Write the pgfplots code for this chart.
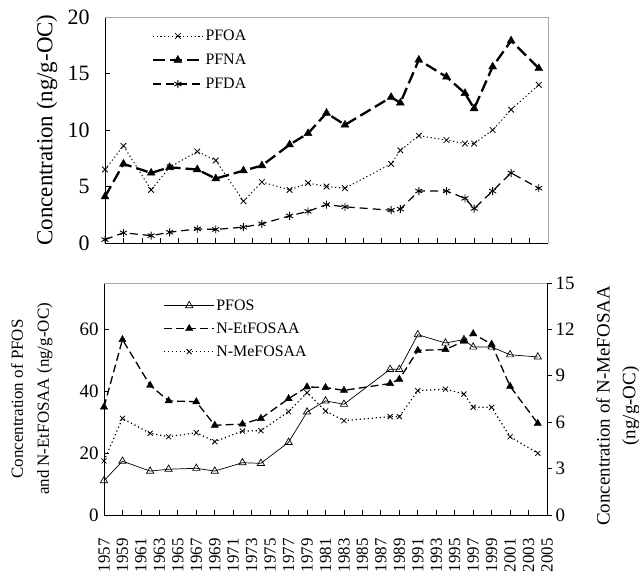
\documentclass[border=0pt]{standalone}
\usepackage{pgfplots}
\pgfplotsset{compat=1.18}
\usepackage{fontspec}
\setmainfont{Liberation Serif}
\pgfplotstableread{
year PFOA PFNA PFDA
1957 6.5 4.1 0.3
1959 8.6 7.0 0.9
1962 4.7 6.2 0.65
1964 6.7 6.7 0.95
1967 8.1 6.5 1.25
1969 7.3 5.7 1.2
1972 3.7 6.4 1.4
1974 5.4 6.85 1.7
1977 4.7 8.7 2.4
1979 5.3 9.7 2.8
1981 5.0 11.5 3.4
1983 4.85 10.45 3.2
1988 7.0 12.9 2.9
1989 8.2 12.4 3.0
1991 9.5 16.2 4.6
1994 9.1 14.7 4.6
1996 8.8 13.25 3.95
1997 8.8 11.9 3.05
1999 10.0 15.6 4.6
2001 11.8 17.9 6.2
2004 14.0 15.45 4.85
}\toptable
\pgfplotstableread{
year PFOS NEt NMe
1957 11.1 34.9 3.5
1959 17.4 56.7 6.25
1962 14.2 41.9 5.28
1964 14.8 36.9 5.06
1967 15.1 36.6 5.32
1969 14.2 29.0 4.74
1972 16.9 29.4 5.43
1974 16.7 31.2 5.45
1977 23.5 37.6 6.68
1979 33.3 41.4 7.91
1981 36.9 41.2 6.72
1983 35.8 40.3 6.1
1988 47.1 42.5 6.36
1989 47.1 43.9 6.36
1991 58.3 53.2 8.04
1994 55.6 53.5 8.14
1996 56.7 56.2 7.82
1997 54.3 58.6 6.96
1999 54.3 55.2 6.96
2001 51.8 41.6 5.06
2004 51.1 29.6 3.99
}\bottable
\pgfplotsset{
  every axis/.append style={
    /pgf/number format/assume math mode=true,
    /pgf/number format/1000 sep={},
  },
  mylegimg/.style={legend image code/.code={\draw[mark repeat=2,mark phase=2,##1] plot coordinates {(0bp,0bp) (25bp,0bp) (50bp,0bp)};}},
  sPFOA/.style={black, line width=1bp, dash pattern=on 1.2bp off 2.6bp, mark=x, mark size=4bp, mark options={solid, line width=0.8bp}},
  sPFNA/.style={black, line width=2.3bp, dash pattern=on 12bp off 5bp, mark=triangle*, mark size=4.6bp, mark options={solid, line width=0.4bp}},
  sPFDA/.style={black, line width=1.2bp, dash pattern=on 8bp off 5bp, mark=asterisk, mark size=4bp, mark options={solid, line width=0.9bp}},
  sPFOS/.style={black, line width=0.7bp, mark=triangle, mark size=4.2bp, mark options={solid, fill=white, line width=0.7bp}},
  sNEt/.style={black, line width=1.3bp, dash pattern=on 8bp off 4bp, mark=triangle*, mark size=4.2bp, mark options={solid, line width=0.4bp}},
  sNMe/.style={black, line width=1.2bp, dash pattern=on 1.2bp off 2.8bp, mark=x, mark size=3.6bp, mark options={solid, line width=0.8bp}},
}
\begin{document}
\begin{tikzpicture}[x=1bp,y=1bp]
\path[use as bounding box] (0,0) rectangle (639,572);
% ---------- top ----------
\begin{axis}[
  at={(105bp,329bp)}, anchor=south west, scale only axis,
  width=443bp, height=226bp,
  xmin=1957, xmax=2005, ymin=0, ymax=20,
  xtick={1957,1959,...,2005}, xticklabels={},
  ytick={0,5,10,15,20},
  axis x line*=bottom, axis y line*=left,
  axis line style={black, line width=0.8bp},
  tick align=inside, major tick length=5bp,
  tick style={black, line width=0.8bp},
  yticklabel style={font=\fontsize{22}{24}\selectfont, xshift=-12bp},
  ylabel={Concentration (ng/g-OC)},
  ylabel style={font=\fontsize{23}{25}\selectfont, at={(axis description cs:-0.131,0.5)}, anchor=center},
  clip=false, mylegimg,
  legend style={draw=none, fill=none, at={(0.105,0.95)}, anchor=north west,
    font=\fontsize{16}{16}\selectfont, row sep=9bp, inner sep=0pt,
    nodes={inner sep=1.5bp}},
  legend cell align=left,
]
\draw[gray!70, line width=0.8bp] (rel axis cs:0,1) -- (rel axis cs:1,1) -- (rel axis cs:1,0);
\addplot[sPFOA] table[x=year, y=PFOA] {\toptable};
\addlegendentry{PFOA}
\addplot[sPFNA] table[x=year, y=PFNA] {\toptable};
\addlegendentry{PFNA}
\addplot[sPFDA] table[x=year, y=PFDA] {\toptable};
\addlegendentry{PFDA}
\end{axis}
% ---------- bottom left ----------
\begin{axis}[
  at={(104bp,57bp)}, anchor=south west, scale only axis,
  width=443bp, height=232bp,
  xmin=1957, xmax=2005, ymin=0, ymax=75,
  xtick={1957,1959,...,2005},
  ytick={0,20,40,60},
  axis x line*=bottom, axis y line*=left,
  axis line style={black, line width=0.8bp},
  tick align=inside, major tick length=5bp,
  tick style={black, line width=0.8bp},
  xticklabel style={font=\fontsize{17}{17}\selectfont, rotate=90, anchor=east, xshift=-20bp},
  yticklabel style={font=\fontsize{19}{21}\selectfont, xshift=-2bp},
  ylabel={Concentration of PFOS\\and N-EtFOSAA (ng/g-OC)},
  ylabel style={font=\fontsize{17}{26}\selectfont, align=center, at={(axis description cs:-0.163,0.5)}, anchor=center},
  clip=false, mylegimg,
  legend style={draw=none, fill=none, at={(0.134,0.936)}, anchor=north west,
    font=\fontsize{16}{16}\selectfont, row sep=8bp, inner sep=0pt,
    nodes={inner sep=1.5bp}},
  legend cell align=left,
]
\draw[gray!70, line width=0.8bp] (rel axis cs:0,1) -- (rel axis cs:1,1);
\addplot[sPFOS] table[x=year, y=PFOS] {\bottable};
\addlegendentry{PFOS}
\addplot[sNEt] table[x=year, y=NEt] {\bottable};
\addlegendentry{N-EtFOSAA}
\addlegendimage{sNMe}
\addlegendentry{N-MeFOSAA}
\end{axis}
% ---------- bottom right ----------
\begin{axis}[
  at={(104bp,57bp)}, anchor=south west, scale only axis,
  width=443bp, height=232bp,
  xmin=1957, xmax=2005, ymin=0, ymax=15,
  ytick={0,3,...,15},
  axis x line=none, axis y line*=right,
  axis line style={black, line width=0.8bp},
  tick align=outside, major tick length=5bp,
  tick style={black, line width=0.8bp},
  yticklabel style={font=\fontsize{19}{21}\selectfont},
  ylabel={Concentration of N-MeFOSAA\\(ng/g-OC)},
  ylabel style={font=\fontsize{19}{26}\selectfont, align=center, at={(axis description cs:1.16,0.47)}, anchor=center},
  clip=false,
]
\addplot[sNMe] table[x=year, y=NMe] {\bottable};
\end{axis}
\end{tikzpicture}
\end{document}
